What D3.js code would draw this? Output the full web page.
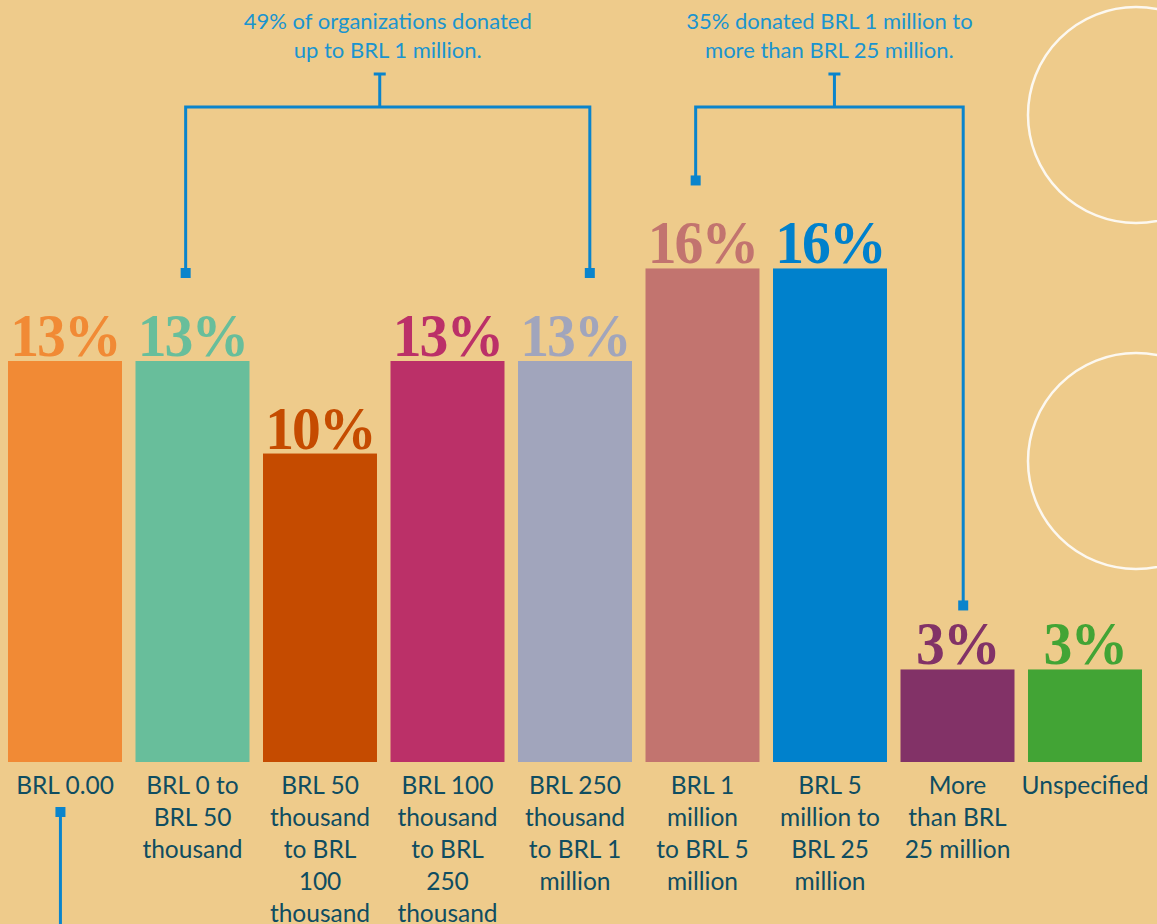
<!DOCTYPE html>
<html><head><meta charset="utf-8">
<script src="https://cdn.jsdelivr.net/npm/d3@7"></script>
<style>
html,body{margin:0;padding:0;background:#eecb8b;}
svg{display:block;}
</style></head>
<body>
<svg id="chart" width="1157" height="924"></svg>
<script>
// ---- data ----
const categories = ["BRL 0.00","BRL 0 to BRL 50 thousand","BRL 50 thousand to BRL 100 thousand","BRL 100 thousand to BRL 250 thousand","BRL 250 thousand to BRL 1 million","BRL 1 million to BRL 5 million","BRL 5 million to BRL 25 million","More than BRL 25 million","Unspecified"];
const categoryLines = [
  ["BRL 0.00"],
  ["BRL 0 to","BRL 50","thousand"],
  ["BRL 50","thousand","to BRL","100","thousand"],
  ["BRL 100","thousand","to BRL","250","thousand"],
  ["BRL 250","thousand","to BRL 1","million"],
  ["BRL 1","million","to BRL 5","million"],
  ["BRL 5","million to","BRL 25","million"],
  ["More","than BRL","25 million"],
  ["Unspecified"]
];
const values = [13,13,10,13,13,16,16,3,3];
const valueLabels = ["13%","13%","10%","13%","13%","16%","16%","3%","3%"];
const colors = ["#f18a35","#68be9b","#c54b00","#bb3068","#a1a5bc","#c2746f","#0081cc","#823267","#42a435"];
const annotations = [
  {lines:["49% of organizations donated","up to BRL 1 million."], from:1, to:4},
  {lines:["35% donated BRL 1 million to","more than BRL 25 million."], from:5, to:7}
];

// ---- layout ----
const W = 1157, H = 924;
const svg = d3.select("#chart");
svg.append("rect").attr("width",W).attr("height",H).attr("fill","#eecb8b");

// decorative circles
const circ = svg.append("g");
[115, 461].forEach(cy => circ.append("circle").attr("cx",1136).attr("cy",cy).attr("r",108)
  .attr("fill","none").attr("stroke","#fcf8f0").attr("stroke-width",2.5));

const x = d3.scaleBand().domain(categories).range([8,1142]).paddingInner(0.106).paddingOuter(0);
const y = d3.scaleLinear().domain([0,13]).range([762,361]);

const g = svg.append("g");
g.selectAll("rect.bar").data(values).join("rect").attr("class","bar")
  .attr("x",(d,i)=>x(categories[i])).attr("width",x.bandwidth())
  .attr("y",d=>y(d)).attr("height",d=>y(0)-y(d))
  .attr("fill",(d,i)=>colors[i]);

g.selectAll("text.val").data(values).join("text").attr("class","val")
  .attr("transform",(d,i)=>`translate(${x(categories[i])+x.bandwidth()/2},${y(d)-5}) scale(0.93,1)`)
  .attr("text-anchor","middle")
  .attr("font-family","'Liberation Serif','Times New Roman',serif")
  .attr("font-weight","bold").attr("font-size",62)
  .attr("letter-spacing",-2)
  .attr("fill",(d,i)=>colors[i])
  .text((d,i)=>valueLabels[i]);

// category labels
const labelColor = "#0f4d61";
const lg = g.selectAll("text.cat").data(categoryLines).join("text").attr("class","cat")
  .attr("text-anchor","middle")
  .attr("font-family","Lato, 'Noto Sans', sans-serif")
  .attr("font-size",24.5).attr("fill",labelColor);
lg.each(function(lines,i){
  const t = d3.select(this);
  lines.forEach((l,j)=> t.append("tspan").attr("x",x(categories[i])+x.bandwidth()/2)
    .attr("y",794+j*32).text(l));
});

// annotations
const blue = "#0a84cc";
const anchorFrac = [0.46,0.44,0.5,0.5,0.63,0.44,0.5,0.55,0.5];
const ax = i => x(categories[i]) + x.bandwidth()*anchorFrac[i];
const ag = svg.append("g").attr("stroke",blue).attr("stroke-width",3).attr("fill","none");
const sq = 10;
function marker(px,py){ svg.append("rect").attr("x",px-sq/2).attr("y",py-sq/2).attr("width",sq).attr("height",sq).attr("fill",blue); }

annotations.forEach((a,k)=>{
  const x1 = ax(a.from), x2 = ax(a.to);
  const stemX = k===0 ? (x1+x2)/2-8 : (x1+x2)/2+5;
  const yBar = 107;
  ag.append("path").attr("d",`M${stemX},${73}V${yBar}`);
  ag.append("path").attr("d",`M${stemX-6},${74}H${stemX+6}`);
  const y1 = y(values[a.from]) - 88, y2 = y(values[a.to]) - (a.to===7 ? 64 : 88);
  ag.append("path").attr("d",`M${x1},${y1}V${yBar}H${x2}V${y2}`);
  marker(x1,y1); marker(x2,y2);
  const tx = stemX + (k===0? 8 : -5);
  const t = svg.append("text").attr("text-anchor","middle")
    .attr("font-family","Lato, 'Noto Sans', sans-serif").attr("font-size",22).attr("fill","#1a94cf");
  a.lines.forEach((l,j)=> t.append("tspan").attr("x",tx).attr("y",29+j*29).text(l));
});

// bottom connector from first bar
const bx = ax(0);
ag.append("path").attr("d",`M${bx},812V924`);
marker(bx,812);
</script>
</body></html>
